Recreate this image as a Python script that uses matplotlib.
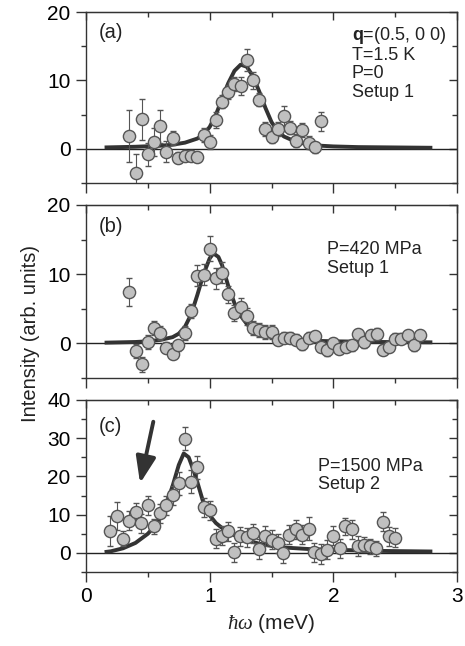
import matplotlib
matplotlib.use("Agg")
import matplotlib.pyplot as plt
from matplotlib.ticker import MultipleLocator

plt.rcParams['font.family'] = ['Liberation Sans', 'DejaVu Sans']
plt.rcParams['mathtext.fontset'] = 'custom'
plt.rcParams['mathtext.rm'] = 'Liberation Sans'
plt.rcParams['mathtext.bf'] = 'Liberation Sans:bold'
plt.rcParams['mathtext.it'] = 'Liberation Serif:italic'

# panel (a): P=0
Ea = [0.35, 0.40, 0.45, 0.50, 0.55, 0.60, 0.65, 0.70, 0.745, 0.80, 0.85, 0.90, 0.95, 1.00, 1.05, 1.10,
      1.15, 1.20, 1.25, 1.30, 1.35, 1.40, 1.45, 1.50, 1.55, 1.60, 1.65, 1.70, 1.75, 1.80, 1.85, 1.90]
Ia = [1.85, -3.5, 4.3, -0.8, 1.0, 3.3, -0.4, 1.55, -1.3, -1.0, -1.0, -1.2, 2.0, 1.0, 4.2, 6.9,
      8.3, 9.5, 9.2, 13.0, 10.0, 7.2, 2.9, 1.8, 2.9, 4.8, 3.1, 1.2, 2.8, 0.9, 0.2, 4.0]
dIa = [3.8, 2.8, 3.0, 1.7, 2.0, 2.4, 1.6, 1.0, 0.8, 0.8, 0.8, 0.8, 1.0, 1.0, 1.2, 1.0,
       1.0, 1.0, 1.3, 1.6, 1.3, 1.0, 1.0, 1.0, 1.0, 1.4, 1.0, 1.0, 1.0, 1.0, 0.8, 1.4]
fit_Ea = [0.15, 0.40, 0.60, 0.70, 0.80, 0.90, 0.95, 1.00, 1.05, 1.10, 1.15, 1.20, 1.25, 1.30,
          1.35, 1.40, 1.45, 1.50, 1.55, 1.60, 1.70, 1.80, 1.90, 2.00, 2.20, 2.50, 2.80]
fit_Ia = [0.2, 0.3, 0.45, 0.6, 0.9, 1.5, 2.1, 3.2, 5.0, 7.3, 9.6, 11.4, 12.3, 12.0,
          10.6, 8.4, 6.0, 3.9, 2.6, 1.8, 1.0, 0.65, 0.45, 0.35, 0.25, 0.2, 0.15]

# panel (b): P=420 MPa
Eb = [0.35, 0.40, 0.45, 0.50, 0.55, 0.60, 0.65, 0.70, 0.745, 0.80, 0.85, 0.90, 0.95, 1.00, 1.05, 1.10,
      1.15, 1.20, 1.25, 1.30, 1.35, 1.40, 1.45, 1.50, 1.555, 1.60, 1.65, 1.70, 1.75, 1.80, 1.85, 1.90,
      1.95, 2.00, 2.045, 2.10, 2.15, 2.20, 2.25, 2.30, 2.35, 2.40, 2.45, 2.50, 2.55, 2.60, 2.65, 2.70]
Ib = [7.4, -1.1, -3.0, 0.2, 2.2, 1.5, -0.6, -1.5, -0.3, 1.5, 4.7, 9.8, 9.9, 13.7, 9.4, 10.2,
      7.1, 4.4, 5.3, 3.9, 2.2, 1.9, 1.6, 1.6, 0.5, 0.8, 0.8, 0.5, -0.15, 0.8, 1.0, -0.5,
      -1.0, 0.0, -0.8, -0.5, -0.3, 1.3, 0.2, 1.2, 1.4, -0.9, -0.5, 0.7, 0.7, 1.2, -0.3, 1.2]
dIb = [2.05, 1.0, 1.1, 1.0, 1.0, 1.0, 0.8, 0.8, 0.8, 1.0, 1.0, 1.5, 1.5, 1.8, 1.5, 1.5,
       1.2, 1.2, 1.2, 1.2, 1.0, 1.0, 1.0, 1.0, 0.8, 0.8, 0.8, 0.8, 0.8, 0.8, 0.8, 0.8,
       0.8, 0.8, 0.8, 0.8, 0.8, 0.8, 0.8, 0.8, 0.8, 0.8, 0.8, 0.8, 0.8, 0.8, 0.8, 0.8]
fit_Eb = [0.15, 0.40, 0.50, 0.60, 0.70, 0.75, 0.80, 0.85, 0.90, 0.95, 1.00, 1.03, 1.07, 1.10,
          1.15, 1.20, 1.25, 1.30, 1.35, 1.40, 1.50, 1.60, 1.80, 2.00, 2.40, 2.80]
fit_Ib = [0.1, 0.2, 0.3, 0.5, 0.9, 1.4, 2.4, 4.2, 7.0, 10.0, 12.3, 13.0, 12.5, 11.3,
          8.3, 5.8, 4.0, 2.8, 1.9, 1.4, 0.9, 0.6, 0.4, 0.3, 0.2, 0.15]

# panel (c): P=1500 MPa
Ec = [0.195, 0.25, 0.30, 0.35, 0.40, 0.445, 0.50, 0.55, 0.60, 0.65, 0.70, 0.75, 0.80, 0.85, 0.90, 0.95,
      1.00, 1.05, 1.10, 1.145, 1.20, 1.245, 1.30, 1.35, 1.40, 1.45, 1.50, 1.55, 1.595, 1.645, 1.70, 1.745,
      1.80, 1.845, 1.90, 1.945, 2.00, 2.05, 2.095, 2.15, 2.195, 2.25, 2.295, 2.345, 2.40, 2.45, 2.495]
Ic = [5.7, 9.7, 3.7, 8.4, 10.8, 7.7, 12.4, 6.9, 10.4, 12.4, 15.1, 18.2, 29.9, 18.6, 22.4, 11.9,
      11.1, 3.7, 4.5, 5.6, 0.2, 4.3, 4.1, 5.1, 1.0, 4.4, 3.4, 2.5, -0.1, 4.7, 6.2, 4.7,
      6.3, 0.2, -0.3, 0.8, 4.5, 1.2, 6.9, 6.2, 1.8, 2.1, 1.7, 1.2, 8.2, 4.3, 4.0]
dIc = [4.0, 3.6, 2.0, 2.5, 2.3, 2.5, 2.5, 2.0, 2.5, 2.5, 2.5, 3.0, 3.0, 3.0, 3.0, 2.5,
       2.5, 2.5, 2.5, 2.5, 2.5, 2.5, 2.5, 2.5, 2.5, 2.5, 2.5, 2.5, 2.5, 2.5, 2.5, 2.5,
       3.0, 2.5, 2.5, 2.5, 2.5, 2.5, 2.3, 2.5, 2.5, 2.0, 2.0, 2.0, 2.4, 2.5, 2.5]
fit_Ec = [0.15, 0.20, 0.30, 0.40, 0.50, 0.55, 0.60, 0.65, 0.70, 0.75, 0.79, 0.83, 0.87, 0.90,
          0.95, 1.00, 1.05, 1.10, 1.20, 1.30, 1.40, 1.50, 1.60, 1.80, 2.00, 2.40, 2.80]
fit_Ic = [0.2, 0.4, 1.2, 2.6, 5.0, 6.8, 9.3, 12.8, 17.5, 23.0, 26.0, 25.0, 21.5, 18.5,
          13.0, 9.8, 7.8, 6.5, 4.6, 3.3, 2.4, 1.8, 1.4, 1.0, 0.8, 0.5, 0.35]

panels = [
    (Ea, Ia, dIa, fit_Ea, fit_Ia, (-5, 20), [0, 10, 20], "(a)",
     "$\\mathbf{q}$=(0.5, 0 0)\nT=1.5 K\nP=0\nSetup 1"),
    (Eb, Ib, dIb, fit_Eb, fit_Ib, (-5, 20), [0, 10, 20], "(b)", "P=420 MPa\nSetup 1"),
    (Ec, Ic, dIc, fit_Ec, fit_Ic, (-5, 40), [0, 10, 20, 30, 40], "(c)", "P=1500 MPa\nSetup 2"),
]
# axes boxes [left, bottom, width, height] and text anchors
boxes = [[0.185, 0.7167, 0.798, 0.2647], [0.185, 0.4149, 0.798, 0.2678], [0.185, 0.1146, 0.798, 0.2663]]
label_pos = [(0.035, 0.88), (0.035, 0.875), (0.035, 0.845)]
text_pos = [(0.716, 0.925), (0.649, 0.79), (0.625, 0.665)]

fig = plt.figure(figsize=(4.65, 6.46), dpi=100)
axes = []
for k, (E, I, dI, fe, fi, ylim, yt, tag, info) in enumerate(panels):
    ax = fig.add_axes(boxes[k])
    ax.axhline(0, color='#222222', lw=1.0, zorder=1)
    ax.plot(fe, fi, color='#333333', lw=2.8, zorder=2, solid_capstyle='butt')
    ax.errorbar(E, I, yerr=dI, fmt='o', ms=8.8, mfc='#c0c0c0', mec='#555555', mew=1.0,
                ecolor='#555555', elinewidth=0.8, capsize=2.5, capthick=0.8, zorder=3)
    ax.set_xlim(0, 3)
    ax.set_ylim(*ylim)
    ax.set_yticks(yt)
    ax.xaxis.set_major_locator(MultipleLocator(1))
    ax.xaxis.set_minor_locator(MultipleLocator(0.5))
    ax.yaxis.set_minor_locator(MultipleLocator(5))
    ax.tick_params(which='major', direction='out', length=7, width=1, labelsize=15, color='#333333', pad=4)
    ax.tick_params(which='minor', direction='out', length=3.5, width=1, color='#333333')
    for s in ax.spines.values():
        s.set_color('#333333')
        s.set_linewidth(1.0)
    # inward ticks on top and right
    top = ax.secondary_xaxis('top')
    top.xaxis.set_major_locator(MultipleLocator(1))
    top.xaxis.set_minor_locator(MultipleLocator(0.5))
    top.tick_params(which='both', direction='in', labeltop=False, width=1, color='#333333')
    top.tick_params(which='major', length=6)
    top.tick_params(which='minor', length=3.5)
    right = ax.secondary_yaxis('right')
    right.set_yticks(yt)
    right.yaxis.set_minor_locator(MultipleLocator(5))
    right.tick_params(which='both', direction='in', labelright=False, width=1, color='#333333')
    right.tick_params(which='major', length=6)
    right.tick_params(which='minor', length=3.5)
    if k < 2:
        ax.tick_params(labelbottom=False)
    ax.text(label_pos[k][0], label_pos[k][1], tag, transform=ax.transAxes, fontsize=14.5,
            va='center', ha='left', color='#222222')
    ax.text(text_pos[k][0], text_pos[k][1], info, transform=ax.transAxes, fontsize=13,
            va='top', ha='left', linespacing=1.1, color='#222222')
    axes.append(ax)

axes[2].annotate('', xy=(0.437, 18.2), xytext=(0.544, 34.3),
                 arrowprops=dict(arrowstyle='-|>,head_length=0.8,head_width=0.3', color='#333333',
                                 lw=2.8, mutation_scale=20, shrinkA=0, shrinkB=0))
axes[2].set_xlabel(r'$\hbar\omega$ (meV)', fontsize=15, labelpad=4, color='#222222')
fig.text(30 / 465, 1 - 333 / 646, 'Intensity (arb. units)', rotation=90, fontsize=14.5,
         ha='center', va='center', color='#222222')

fig.savefig('out.png', dpi=100)
